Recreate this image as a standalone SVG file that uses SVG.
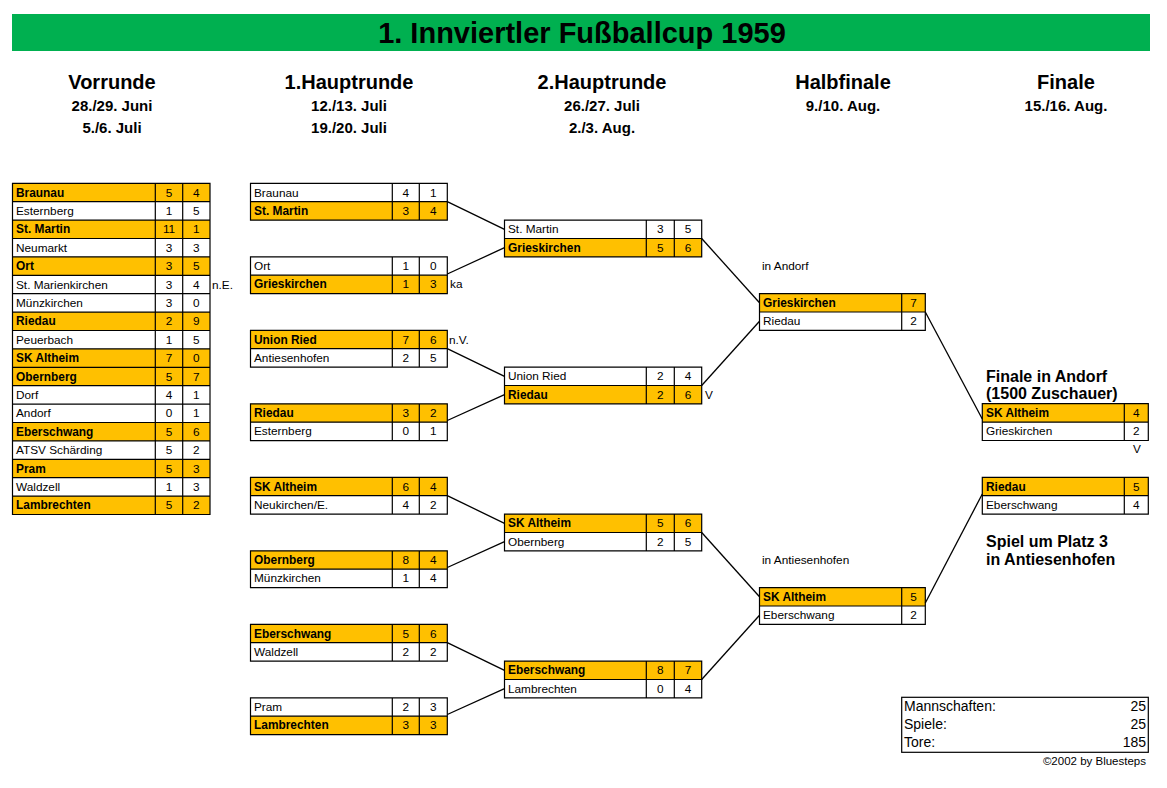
<svg xmlns="http://www.w3.org/2000/svg" width="1167" height="788" viewBox="0 0 1167 788">
<style>
text{font-family:"Liberation Sans",Arial,sans-serif;fill:#000}
.title{font-size:29px;font-weight:bold;text-anchor:middle}
.hd{font-size:20px;font-weight:bold;text-anchor:middle}
.dt{font-size:15px;font-weight:bold;text-anchor:middle}
.t{font-size:11.8px}
.b{font-size:11.9px;font-weight:bold}
.s{font-size:11.8px;text-anchor:middle}
.sb{font-size:11.8px;text-anchor:middle}
.note{font-size:11.8px}
.big{font-size:16px;font-weight:bold}
.st{font-size:14px}
.str{font-size:14px;text-anchor:end}
.cp{font-size:11.5px;text-anchor:end}
.g{fill:#FFC000}
.w{fill:#fff}
.grid{stroke:#000;stroke-width:1.2;fill:none}
.con line{stroke:#000;stroke-width:1.3}
</style>
<rect width="1167" height="788" fill="#fff"/>
<g id="header">
<rect x="12" y="14" width="1138" height="37" fill="#00B050"/>
<text class="title" x="582" y="43">1. Innviertler Fußballcup 1959</text>
<text class="hd" x="112" y="89">Vorrunde</text>
<text class="dt" x="112" y="111">28./29. Juni</text>
<text class="dt" x="112" y="133">5./6. Juli</text>
<text class="hd" x="349" y="89">1.Hauptrunde</text>
<text class="dt" x="349" y="111">12./13. Juli</text>
<text class="dt" x="349" y="133">19./20. Juli</text>
<text class="hd" x="602" y="89">2.Hauptrunde</text>
<text class="dt" x="602" y="111">26./27. Juli</text>
<text class="dt" x="602" y="133">2./3. Aug.</text>
<text class="hd" x="843" y="89">Halbfinale</text>
<text class="dt" x="843" y="111">9./10. Aug.</text>
<text class="hd" x="1066" y="89">Finale</text>
<text class="dt" x="1066" y="111">15./16. Aug.</text>
</g>

<g id="vorrunde">
<rect class="g" x="12.5" y="183.3" width="197.5" height="18.4"/>
<rect class="g" x="12.5" y="220.1" width="197.5" height="18.4"/>
<rect class="g" x="12.5" y="256.9" width="197.5" height="18.4"/>
<rect class="g" x="12.5" y="312.1" width="197.5" height="18.4"/>
<rect class="g" x="12.5" y="348.9" width="197.5" height="36.8"/>
<rect class="g" x="12.5" y="422.5" width="197.5" height="18.4"/>
<rect class="g" x="12.5" y="459.3" width="197.5" height="18.4"/>
<rect class="g" x="12.5" y="496.1" width="197.5" height="18.4"/>
<path class="grid" d="M12.5 183.3H210V514.5H12.5Z M155.3 183.3V514.5 M182.7 183.3V514.5 M12.5 201.7H210 M12.5 220.1H210 M12.5 238.5H210 M12.5 256.9H210 M12.5 275.3H210 M12.5 293.7H210 M12.5 312.1H210 M12.5 330.5H210 M12.5 348.9H210 M12.5 367.3H210 M12.5 385.7H210 M12.5 404.1H210 M12.5 422.5H210 M12.5 440.9H210 M12.5 459.3H210 M12.5 477.7H210 M12.5 496.1H210"/>
<text class="b" x="16" y="196.5">Braunau</text><text class="sb" x="169" y="196.5">5</text><text class="sb" x="196.4" y="196.5">4</text>
<text class="t" x="16" y="214.9">Esternberg</text><text class="s" x="169" y="214.9">1</text><text class="s" x="196.4" y="214.9">5</text>
<text class="b" x="16" y="233.3">St. Martin</text><text class="sb" x="169" y="233.3">11</text><text class="sb" x="196.4" y="233.3">1</text>
<text class="t" x="16" y="251.7">Neumarkt</text><text class="s" x="169" y="251.7">3</text><text class="s" x="196.4" y="251.7">3</text>
<text class="b" x="16" y="270.1">Ort</text><text class="sb" x="169" y="270.1">3</text><text class="sb" x="196.4" y="270.1">5</text>
<text class="t" x="16" y="288.5">St. Marienkirchen</text><text class="s" x="169" y="288.5">3</text><text class="s" x="196.4" y="288.5">4</text>
<text class="t" x="16" y="306.9">Münzkirchen</text><text class="s" x="169" y="306.9">3</text><text class="s" x="196.4" y="306.9">0</text>
<text class="b" x="16" y="325.3">Riedau</text><text class="sb" x="169" y="325.3">2</text><text class="sb" x="196.4" y="325.3">9</text>
<text class="t" x="16" y="343.7">Peuerbach</text><text class="s" x="169" y="343.7">1</text><text class="s" x="196.4" y="343.7">5</text>
<text class="b" x="16" y="362.1">SK Altheim</text><text class="sb" x="169" y="362.1">7</text><text class="sb" x="196.4" y="362.1">0</text>
<text class="b" x="16" y="380.5">Obernberg</text><text class="sb" x="169" y="380.5">5</text><text class="sb" x="196.4" y="380.5">7</text>
<text class="t" x="16" y="398.9">Dorf</text><text class="s" x="169" y="398.9">4</text><text class="s" x="196.4" y="398.9">1</text>
<text class="t" x="16" y="417.3">Andorf</text><text class="s" x="169" y="417.3">0</text><text class="s" x="196.4" y="417.3">1</text>
<text class="b" x="16" y="435.7">Eberschwang</text><text class="sb" x="169" y="435.7">5</text><text class="sb" x="196.4" y="435.7">6</text>
<text class="t" x="16" y="454.1">ATSV Schärding</text><text class="s" x="169" y="454.1">5</text><text class="s" x="196.4" y="454.1">2</text>
<text class="b" x="16" y="472.5">Pram</text><text class="sb" x="169" y="472.5">5</text><text class="sb" x="196.4" y="472.5">3</text>
<text class="t" x="16" y="490.9">Waldzell</text><text class="s" x="169" y="490.9">1</text><text class="s" x="196.4" y="490.9">3</text>
<text class="b" x="16" y="509.3">Lambrechten</text><text class="sb" x="169" y="509.3">5</text><text class="sb" x="196.4" y="509.3">2</text>
<text class="note" x="212" y="288.5">n.E.</text>
</g>

<g id="hr1-1">
<rect class="g" x="250.5" y="201.7" width="196.8" height="18.4"/>
<path class="grid" d="M250.5 183.3H447.3V220.1H250.5Z M250.5 201.7H447.3 M392.3 183.3V220.1 M419.3 183.3V220.1"/>
<text class="t" x="254" y="196.5">Braunau</text><text class="s" x="405.8" y="196.5">4</text><text class="s" x="433.3" y="196.5">1</text>
<text class="b" x="254" y="214.9">St. Martin</text><text class="sb" x="405.8" y="214.9">3</text><text class="sb" x="433.3" y="214.9">4</text>
</g>
<g id="hr1-2">
<rect class="g" x="250.5" y="275.2" width="196.8" height="18.4"/>
<path class="grid" d="M250.5 256.8H447.3V293.6H250.5Z M250.5 275.2H447.3 M392.3 256.8V293.6 M419.3 256.8V293.6"/>
<text class="t" x="254" y="270">Ort</text><text class="s" x="405.8" y="270">1</text><text class="s" x="433.3" y="270">0</text>
<text class="b" x="254" y="288.4">Grieskirchen</text><text class="sb" x="405.8" y="288.4">1</text><text class="sb" x="433.3" y="288.4">3</text>
<text class="note" x="450" y="288.4">ka</text>
</g>
<g id="hr1-3">
<rect class="g" x="250.5" y="330.3" width="196.8" height="18.4"/>
<path class="grid" d="M250.5 330.3H447.3V367.1H250.5Z M250.5 348.7H447.3 M392.3 330.3V367.1 M419.3 330.3V367.1"/>
<text class="b" x="254" y="343.5">Union Ried</text><text class="sb" x="405.8" y="343.5">7</text><text class="sb" x="433.3" y="343.5">6</text>
<text class="t" x="254" y="361.9">Antiesenhofen</text><text class="s" x="405.8" y="361.9">2</text><text class="s" x="433.3" y="361.9">5</text>
<text class="note" x="449" y="343.5">n.V.</text>
</g>
<g id="hr1-4">
<rect class="g" x="250.5" y="403.8" width="196.8" height="18.4"/>
<path class="grid" d="M250.5 403.8H447.3V440.6H250.5Z M250.5 422.2H447.3 M392.3 403.8V440.6 M419.3 403.8V440.6"/>
<text class="b" x="254" y="417">Riedau</text><text class="sb" x="405.8" y="417">3</text><text class="sb" x="433.3" y="417">2</text>
<text class="t" x="254" y="435.4">Esternberg</text><text class="s" x="405.8" y="435.4">0</text><text class="s" x="433.3" y="435.4">1</text>
</g>
<g id="hr1-5">
<rect class="g" x="250.5" y="477.3" width="196.8" height="18.4"/>
<path class="grid" d="M250.5 477.3H447.3V514.1H250.5Z M250.5 495.7H447.3 M392.3 477.3V514.1 M419.3 477.3V514.1"/>
<text class="b" x="254" y="490.5">SK Altheim</text><text class="sb" x="405.8" y="490.5">6</text><text class="sb" x="433.3" y="490.5">4</text>
<text class="t" x="254" y="508.9">Neukirchen/E.</text><text class="s" x="405.8" y="508.9">4</text><text class="s" x="433.3" y="508.9">2</text>
</g>
<g id="hr1-6">
<rect class="g" x="250.5" y="550.8" width="196.8" height="18.4"/>
<path class="grid" d="M250.5 550.8H447.3V587.6H250.5Z M250.5 569.2H447.3 M392.3 550.8V587.6 M419.3 550.8V587.6"/>
<text class="b" x="254" y="564">Obernberg</text><text class="sb" x="405.8" y="564">8</text><text class="sb" x="433.3" y="564">4</text>
<text class="t" x="254" y="582.4">Münzkirchen</text><text class="s" x="405.8" y="582.4">1</text><text class="s" x="433.3" y="582.4">4</text>
</g>
<g id="hr1-7">
<rect class="g" x="250.5" y="624.3" width="196.8" height="18.4"/>
<path class="grid" d="M250.5 624.3H447.3V661.1H250.5Z M250.5 642.7H447.3 M392.3 624.3V661.1 M419.3 624.3V661.1"/>
<text class="b" x="254" y="637.5">Eberschwang</text><text class="sb" x="405.8" y="637.5">5</text><text class="sb" x="433.3" y="637.5">6</text>
<text class="t" x="254" y="655.9">Waldzell</text><text class="s" x="405.8" y="655.9">2</text><text class="s" x="433.3" y="655.9">2</text>
</g>
<g id="hr1-8">
<rect class="g" x="250.5" y="716.2" width="196.8" height="18.4"/>
<path class="grid" d="M250.5 697.8H447.3V734.6H250.5Z M250.5 716.2H447.3 M392.3 697.8V734.6 M419.3 697.8V734.6"/>
<text class="t" x="254" y="711">Pram</text><text class="s" x="405.8" y="711">2</text><text class="s" x="433.3" y="711">3</text>
<text class="b" x="254" y="729.4">Lambrechten</text><text class="sb" x="405.8" y="729.4">3</text><text class="sb" x="433.3" y="729.4">3</text>
</g>

<g id="hr2-1">
<rect class="g" x="504.5" y="238.5" width="197.2" height="18.4"/>
<path class="grid" d="M504.5 220.1H701.7V256.9H504.5Z M504.5 238.5H701.7 M646.3 220.1V256.9 M674.3 220.1V256.9"/>
<text class="t" x="508" y="233.3">St. Martin</text><text class="s" x="660.3" y="233.3">3</text><text class="s" x="688" y="233.3">5</text>
<text class="b" x="508" y="251.7">Grieskirchen</text><text class="sb" x="660.3" y="251.7">5</text><text class="sb" x="688" y="251.7">6</text>
</g>
<g id="hr2-2">
<rect class="g" x="504.5" y="385.5" width="197.2" height="18.4"/>
<path class="grid" d="M504.5 367.1H701.7V403.9H504.5Z M504.5 385.5H701.7 M646.3 367.1V403.9 M674.3 367.1V403.9"/>
<text class="t" x="508" y="380.3">Union Ried</text><text class="s" x="660.3" y="380.3">2</text><text class="s" x="688" y="380.3">4</text>
<text class="b" x="508" y="398.7">Riedau</text><text class="sb" x="660.3" y="398.7">2</text><text class="sb" x="688" y="398.7">6</text>
<text class="note" x="705" y="398.7">V</text>
</g>
<g id="hr2-3">
<rect class="g" x="504.5" y="514.1" width="197.2" height="18.4"/>
<path class="grid" d="M504.5 514.1H701.7V550.9H504.5Z M504.5 532.5H701.7 M646.3 514.1V550.9 M674.3 514.1V550.9"/>
<text class="b" x="508" y="527.3">SK Altheim</text><text class="sb" x="660.3" y="527.3">5</text><text class="sb" x="688" y="527.3">6</text>
<text class="t" x="508" y="545.7">Obernberg</text><text class="s" x="660.3" y="545.7">2</text><text class="s" x="688" y="545.7">5</text>
</g>
<g id="hr2-4">
<rect class="g" x="504.5" y="661.1" width="197.2" height="18.4"/>
<path class="grid" d="M504.5 661.1H701.7V697.9H504.5Z M504.5 679.5H701.7 M646.3 661.1V697.9 M674.3 661.1V697.9"/>
<text class="b" x="508" y="674.3">Eberschwang</text><text class="sb" x="660.3" y="674.3">8</text><text class="sb" x="688" y="674.3">7</text>
<text class="t" x="508" y="692.7">Lambrechten</text><text class="s" x="660.3" y="692.7">0</text><text class="s" x="688" y="692.7">4</text>
</g>

<g id="hf-1">
<rect class="g" x="759.5" y="293.6" width="165.8" height="18.4"/>
<path class="grid" d="M759.5 293.6H925.3V330.4H759.5Z M759.5 312H925.3 M901.7 293.6V330.4"/>
<text class="b" x="763" y="306.8">Grieskirchen</text><text class="sb" x="913.5" y="306.8">7</text>
<text class="t" x="763" y="325.2">Riedau</text><text class="s" x="913.5" y="325.2">2</text>
<text class="note" x="762" y="270">in Andorf</text>
</g>
<g id="hf-2">
<rect class="g" x="759.5" y="587.6" width="165.8" height="18.4"/>
<path class="grid" d="M759.5 587.6H925.3V624.4H759.5Z M759.5 606H925.3 M901.7 587.6V624.4"/>
<text class="b" x="763" y="600.8">SK Altheim</text><text class="sb" x="913.5" y="600.8">5</text>
<text class="t" x="763" y="619.2">Eberschwang</text><text class="s" x="913.5" y="619.2">2</text>
<text class="note" x="762" y="564">in Antiesenhofen</text>
</g>

<g id="final">
<text class="big" x="986" y="382">Finale in Andorf</text>
<text class="big" x="986" y="399">(1500 Zuschauer)</text>
<rect class="g" x="982.3" y="403.7" width="166" height="18.4"/>
<path class="grid" d="M982.3 403.7H1148.3V440.5H982.3Z M982.3 422.1H1148.3 M1124.3 403.7V440.5"/>
<text class="b" x="986" y="416.9">SK Altheim</text><text class="sb" x="1136.3" y="416.9">4</text>
<text class="t" x="986" y="435.3">Grieskirchen</text><text class="s" x="1136.3" y="435.3">2</text>
<text class="note" x="1133" y="453">V</text>
</g>
<g id="third">
<rect class="g" x="982.3" y="477.3" width="166" height="18.4"/>
<path class="grid" d="M982.3 477.3H1148.3V514.1H982.3Z M982.3 495.7H1148.3 M1124.3 477.3V514.1"/>
<text class="b" x="986" y="490.5">Riedau</text><text class="sb" x="1136.3" y="490.5">5</text>
<text class="t" x="986" y="508.9">Eberschwang</text><text class="s" x="1136.3" y="508.9">4</text>
<text class="big" x="986" y="547">Spiel um Platz 3</text>
<text class="big" x="986" y="565">in Antiesenhofen</text>
</g>

<g id="stats">
<rect x="901.7" y="697.3" width="246.6" height="55" fill="none" stroke="#000" stroke-width="1.2"/>
<text class="st" x="904" y="711">Mannschaften:</text><text class="str" x="1146" y="711">25</text>
<text class="st" x="904" y="729">Spiele:</text><text class="str" x="1146" y="729">25</text>
<text class="st" x="904" y="747">Tore:</text><text class="str" x="1146" y="747">185</text>
<text class="cp" x="1146" y="765">©2002 by Bluesteps</text>
</g>

<g id="connectors" class="con">
<line x1="447.3" y1="201.7" x2="504.5" y2="229.3"/>
<line x1="447.3" y1="274" x2="504.5" y2="247.7"/>
<line x1="447.3" y1="348.7" x2="504.5" y2="376.3"/>
<line x1="447.3" y1="420.5" x2="504.5" y2="394.7"/>
<line x1="447.3" y1="495.7" x2="504.5" y2="523.3"/>
<line x1="447.3" y1="567.5" x2="504.5" y2="541.7"/>
<line x1="447.3" y1="642.7" x2="504.5" y2="670.3"/>
<line x1="447.3" y1="714.5" x2="504.5" y2="688.7"/>
<line x1="701.7" y1="238.5" x2="759.5" y2="302.8"/>
<line x1="701.7" y1="385.5" x2="759.5" y2="321.2"/>
<line x1="701.7" y1="532.5" x2="759.5" y2="596.8"/>
<line x1="701.7" y1="679.5" x2="759.5" y2="615.2"/>
<line x1="925.3" y1="312" x2="982.3" y2="419"/>
<line x1="925.3" y1="603" x2="982.3" y2="494"/>
</g>
</svg>
